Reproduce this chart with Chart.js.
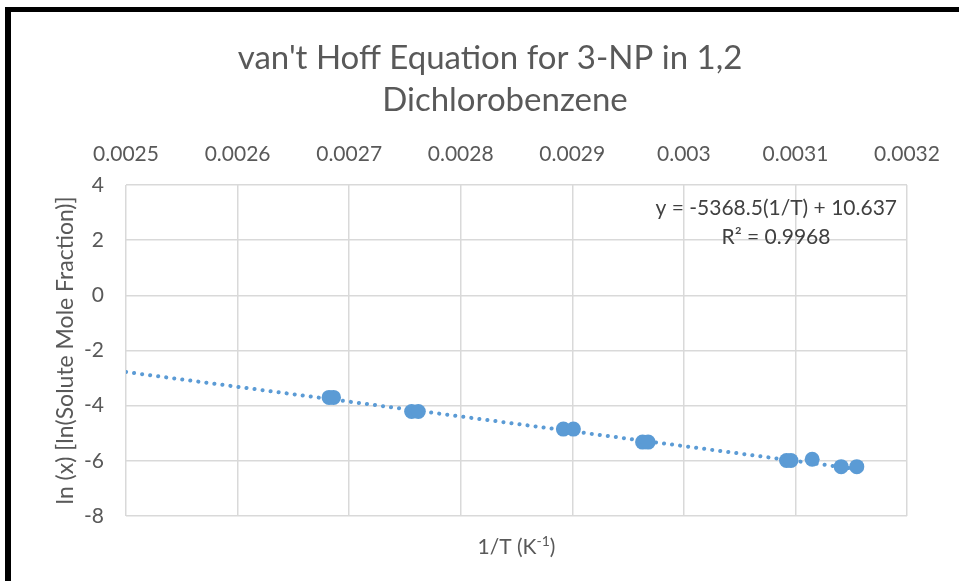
<!DOCTYPE html>
<html>
<head>
<meta charset="utf-8">
<script src="https://cdn.jsdelivr.net/npm/chart.js@4"></script>
<style>
  body { margin: 0; background: #fff; }
  #wrap { position: relative; width: 959px; height: 581px; }
  #frame { position: absolute; left: 5px; top: 7px; right: 0; bottom: 0; border-top: 5px solid #000; border-left: 6px solid #000; pointer-events: none; }
</style>
</head>
<body>
<div id="wrap">
  <canvas id="grafico" width="959" height="581"></canvas>
  <div id="frame"></div>
</div>
<script>
// datos
const invT = [0.002682, 0.002686, 0.002756, 0.002762, 0.002892, 0.002901, 0.002963, 0.002968, 0.003092, 0.003096, 0.003115, 0.003141, 0.003155];
const lnX = [-3.70, -3.70, -4.21, -4.21, -4.85, -4.85, -5.32, -5.32, -5.99, -5.99, -5.94, -6.21, -6.21];
// extremos de la linea de tendencia
const trendX = [0.0025, 0.003155];
const trendY = [-2.78, -6.30];
const titulo = ["van't Hoff Equation for 3-NP in 1,2", "Dichlorobenzene"];
const ecuacion = "y = -5368.5(1/T) + 10.637";
const r2 = "R\u00b2 = 0.9968";

const FUENTE = "Lato, 'Open Sans', sans-serif";
const GRIS = "#595959";
const AZUL = "#5b9bd5";

const puntos = invT.map((x, i) => ({ x: x, y: lnX[i] }));
const tendencia = trendX.map((x, i) => ({ x: x, y: trendY[i] }));

// titulo, ecuacion y titulo del eje x con superindice
const textosExtra = {
    id: 'textosExtra',
    afterDraw(chart) {
        const c = chart.ctx;
        const area = chart.chartArea;
        c.save();
        c.textBaseline = "middle";

        // titulo
        c.fillStyle = GRIS;
        c.textAlign = "center";
        c.font = "33px " + FUENTE;
        c.fillText(titulo[0], 490, 58);
        c.fillText(titulo[1], 505, 100);

        c.fillStyle = "#404040";
        c.font = "21px " + FUENTE;
        c.textAlign = "right";
        c.fillText(ecuacion, 897, 208);
        c.textAlign = "center";
        c.fillText(r2, 776, 237);

        // 1/T (K-1)
        c.fillStyle = GRIS;
        const base = "1/T (K";
        const sup = "-1";
        const fin = ")";
        c.font = "21px " + FUENTE;
        const w1 = c.measureText(base).width;
        const w3 = c.measureText(fin).width;
        c.font = "14px " + FUENTE;
        const w2 = c.measureText(sup).width;
        let x = (area.left + area.right) / 2 - (w1 + w2 + w3) / 2;
        const y = 547;
        c.textAlign = "left";
        c.font = "21px " + FUENTE;
        c.fillText(base, x, y);
        x += w1;
        c.font = "14px " + FUENTE;
        c.fillText(sup, x, y - 6);
        x += w2;
        c.font = "21px " + FUENTE;
        c.fillText(fin, x, y);
        c.restore();
    }
};

const ctx = document.getElementById('grafico').getContext('2d');
new Chart(ctx, {
    type: 'scatter',
    data: {
        datasets: [{
            label: 'ln (x)',
            data: puntos,
            backgroundColor: AZUL,
            borderWidth: 0,
            pointRadius: 7.5,
            order: 1
        }, {
            type: 'line',
            label: 'Tendencia',
            data: tendencia,
            borderColor: AZUL,
            borderWidth: 4,
            borderDash: [0.1, 8],
            borderCapStyle: 'round',
            pointRadius: 0,
            fill: false,
            order: 2
        }]
    },
    options: {
        responsive: false,
        animation: false,
        layout: { padding: { left: 0, right: 52, top: 121, bottom: 65 } },
        plugins: {
            legend: { display: false },
            tooltip: { enabled: false },
            title: { display: false }
        },
        scales: {
            x: {
                type: 'linear',
                position: 'top',
                min: 0.0025,
                max: 0.0032,
                ticks: {
                    stepSize: 0.0001,
                    color: GRIS,
                    padding: 18,
                    maxRotation: 0,
                    font: { family: FUENTE, size: 21 },
                    callback: v => parseFloat(v.toFixed(4)).toString()
                },
                grid: { color: '#d9d9d9', lineWidth: 1.5, drawTicks: false },
                border: { display: false },
                afterFit: s => { s.height = 64; }
            },
            y: {
                min: -8,
                max: 4,
                ticks: {
                    stepSize: 2,
                    color: GRIS,
                    padding: 22,
                    font: { family: FUENTE, size: 21 }
                },
                grid: { color: '#d9d9d9', lineWidth: 1.5, drawTicks: false },
                border: { display: false },
                title: {
                    display: true,
                    text: 'ln (x) [ln(Solute Mole Fraction)]',
                    color: GRIS,
                    font: { family: FUENTE, size: 23 },
                    padding: { top: 52, bottom: 0 }
                },
                afterFit: s => { s.width = 126; }
            }
        }
    },
    plugins: [textosExtra]
});
</script>
</body>
</html>
